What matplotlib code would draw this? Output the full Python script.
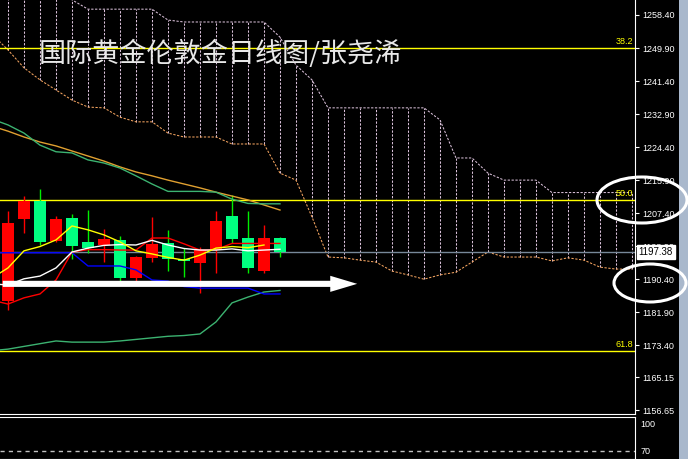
import numpy as np
import matplotlib
matplotlib.use("Agg")
import matplotlib.pyplot as plt
from matplotlib.patches import Ellipse, Rectangle
from matplotlib.transforms import blended_transform_factory

# daily candles (bar index 0..17)
opens = [1204.9, 1210.5, 1200.0, 1205.9, 1199.0, 1198.3, 1200.7, 1190.8, 1196.0,
         1199.5, 1195.5, 1195.2, 1197.9, 1205.4, 1200.7, 1193.3, 1201.0, 1197.3]
highs = [1208.0, 1211.9, 1213.6, 1206.7, 1207.2, 1208.2, 1203.2, 1201.5, 1196.3,
         1206.5, 1203.1, 1198.3, 1198.6, 1208.0, 1212.1, 1208.0, 1204.3, 1201.3]
lows = [1182.5, 1202.4, 1199.2, 1200.0, 1195.5, 1197.2, 1194.9, 1189.8, 1189.8,
        1194.9, 1192.6, 1190.9, 1186.9, 1191.9, 1199.8, 1192.1, 1192.1, 1196.2]
closes = [1184.9, 1205.9, 1210.5, 1200.3, 1206.1, 1200.0, 1199.2, 1200.5, 1190.8,
          1195.9, 1199.7, 1195.5, 1194.5, 1197.9, 1206.7, 1201.0, 1192.6, 1201.0]

# indicator lines, bar index -1..17
line_idx = np.arange(-1, 18)
orange_line = [1229.8, 1228.5, 1227.0, 1225.7, 1224.7, 1223.4, 1222.1, 1220.8, 1219.3, 1218.0,
               1217.0, 1215.9, 1214.9, 1213.9, 1212.8, 1211.8, 1210.8, 1209.5, 1208.2]
green_upper = [1231.6, 1230.1, 1228.0, 1224.9, 1223.2, 1222.9, 1221.1, 1220.3, 1219.0, 1217.0,
               1214.9, 1213.0, 1213.0, 1213.0, 1212.8, 1211.0, 1209.9, 1209.8, 1209.8]
green_lower = [1172.0, 1172.4, 1173.1, 1173.8, 1174.5, 1174.2, 1174.2, 1174.2, 1174.5, 1174.9,
               1175.3, 1175.7, 1175.9, 1176.3, 1179.4, 1184.3, 1185.8, 1187.1, 1187.5]
blue_line = [1197.2, 1197.2, 1197.2, 1197.2, 1197.2, 1197.2, 1193.8, 1193.8, 1193.8, 1192.8,
             1190.2, 1189.9, 1188.5, 1188.1, 1188.1, 1188.1, 1188.1, 1186.6, 1186.6]
red_line = [1185.0, 1184.0, 1185.6, 1186.6, 1190.2, 1197.4, 1198.0, 1198.0, 1197.9, 1197.9,
            1201.0, 1201.0, 1199.5, 1197.9, 1198.0, 1199.6, 1199.6, 1199.6, 1199.6]
white_line = [1189.2, 1188.9, 1190.5, 1191.2, 1193.3, 1197.4, 1198.4, 1199.1, 1199.3, 1199.2,
              1200.4, 1199.2, 1198.3, 1197.9, 1197.9, 1198.2, 1197.7, 1197.9, 1198.1]
yellow_line = [1190.7, 1193.3, 1197.7, 1198.8, 1200.5, 1204.1, 1203.1, 1201.8, 1200.0, 1197.7,
               1196.9, 1196.0, 1195.3, 1196.6, 1198.4, 1198.8, 1198.5, 1199.2]

# ichimoku cloud, bar index -1..39
cloud_idx = np.arange(-1, 40)
span_b = [1282.0, 1277.7, 1273.8, 1270.0, 1265.4, 1262.3, 1259.9, 1259.9, 1259.9, 1259.9,
          1259.9, 1257.1, 1256.6, 1256.6, 1256.6, 1256.6, 1256.6, 1256.6, 1252.7, 1245.5,
          1241.7, 1234.5, 1234.5, 1234.5, 1234.5, 1234.5, 1234.5, 1234.5, 1231.4, 1221.6,
          1221.6, 1217.7, 1215.9, 1215.9, 1215.9, 1212.7, 1212.7, 1212.7, 1212.7, 1212.7,
          1212.7]
span_a = [1253.5, 1249.4, 1244.8, 1241.7, 1239.1, 1236.5, 1234.7, 1234.5, 1232.1, 1230.9,
          1230.9, 1228.0, 1227.0, 1227.0, 1227.0, 1225.2, 1225.2, 1225.2, 1217.7, 1215.9,
          1206.4, 1196.1, 1195.9, 1195.3, 1194.8, 1192.5, 1191.5, 1190.4, 1191.5, 1192.2,
          1194.8, 1197.4, 1196.1, 1196.1, 1196.1, 1195.1, 1195.9, 1195.3, 1193.5, 1193.0,
          1193.0]

fib_levels = [1249.8, 1210.8, 1171.9]
fib_labels = ["38.2", "50.0", "61.8"]
last_price = 1197.38
price_ticks = [1258.40, 1249.90, 1241.40, 1232.90, 1224.40, 1215.90, 1207.40,
               1198.90, 1190.40, 1181.90, 1173.40, 1165.15, 1156.65]
osc_ticks = [100, 70]
title = "国际黄金伦敦金日线图/张尧浠"

W, H = 688, 459
fig = plt.figure(figsize=(W / 100, H / 100), dpi=100, facecolor="black")
ax = fig.add_axes([0, 45 / H, 635 / W, 414 / H], facecolor="black")
ax2 = fig.add_axes([0, 0, 635 / W, 42.5 / H], facecolor="black")

ax.set_xlim(-0.5, 39.19)
ax.set_ylim(1155.7, 1262.26)

# cloud
dash = (0, (2.2, 1.5))
ax.vlines(cloud_idx, span_a, span_b, colors="#d8bfd8", linestyles=dash, lw=0.75, zorder=1)
ax.plot(cloud_idx, span_b, color="#d8bfd8", ls=dash, lw=0.75, zorder=1)
ax.plot(cloud_idx, span_a, color="#f4a460", ls=dash, lw=0.75, zorder=1)

# fibo + price line
for lvl, lab in zip(fib_levels, fib_labels):
    ax.axhline(lvl, color="#ffff00", lw=1, zorder=2)
    ax.text(633 / 635, lvl + 0.6, lab, transform=blended_transform_factory(ax.transAxes, ax.transData),
            color="#ffff00", fontsize=6.5, family="Liberation Sans", ha="right", va="bottom")
ax.axhline(last_price, color="#778899", lw=1, zorder=2)

# candles
for i, (o, h, l, c) in enumerate(zip(opens, highs, lows, closes)):
    body = "#00ff80" if c >= o else "#ff0000"
    wick = "#00ee00" if c >= o else "#ff0000"
    ax.vlines(i, l, h, color=wick, lw=1, zorder=3)
    ax.bar(i, abs(c - o), bottom=min(o, c), width=0.69, color=body, zorder=4)

# indicator lines
ax.plot(line_idx, orange_line, color="#e0a030", lw=1, zorder=5)
ax.plot(line_idx, green_upper, color="#3cb371", lw=1, zorder=5)
ax.plot(line_idx, green_lower, color="#3cb371", lw=1, zorder=5)
ax.plot(line_idx, blue_line, color="#0000ff", lw=1, zorder=5)
ax.plot(line_idx, red_line, color="#ff0000", lw=1, zorder=5)
ax.plot(line_idx, white_line, color="#ffffff", lw=1, zorder=5)
ax.plot(line_idx[:len(yellow_line)], yellow_line, color="#ffff00", lw=1, zorder=5)

# white arrow
ax.annotate("", xy=(22.0, 1189.2), xytext=(-0.5, 1189.2),
            arrowprops=dict(arrowstyle="simple,head_length=0.97,head_width=0.58,tail_width=0.22",
                            mutation_scale=20, fc="white", ec="white", lw=0), zorder=6)

# axes styling
for s in ["top", "left"]:
    ax.spines[s].set_visible(False)
    ax2.spines[s].set_visible(False)
ax2.spines["top"].set_visible(True)
for a in (ax, ax2):
    for s in ["bottom", "right", "top"]:
        a.spines[s].set_color("white")
ax.set_xticks([])
ax.yaxis.tick_right()
ax.set_yticks(price_ticks)
ax.set_yticklabels([f"{p:.2f}" for p in price_ticks], family="Liberation Sans")
ax.tick_params(axis="y", colors="white", labelsize=6.5, length=3, width=0.8, pad=2)

ax.text(1.006, last_price, f"{last_price:.2f}", transform=blended_transform_factory(ax.transAxes, ax.transData),
        color="black", fontsize=7, family="Liberation Sans", ha="left", va="center", zorder=10,
        bbox=dict(facecolor="white", edgecolor="white", pad=1.3), clip_on=False)

ax2.set_xlim(-0.5, 39.19)
ax2.set_ylim(61.4, 107)
ax2.axhline(70, color="#c0c0c0", lw=1, ls=(0, (3, 3)))
ax2.set_xticks([])
ax2.yaxis.tick_right()
ax2.set_yticks(osc_ticks)
ax2.set_yticklabels([str(t) for t in osc_ticks], family="Liberation Sans")
ax2.tick_params(axis="y", colors="white", labelsize=6.5, length=0, pad=4)

# title
fig.text(39 / W, 1 - 54 / H, title, color="#e8e8e8", fontsize=19.5, fontweight="light",
         family=["Noto Sans CJK SC", "DejaVu Sans"], ha="left", va="center")

# circles + scrollbar
fig.add_artist(Ellipse((642 / W, 1 - 200 / H), 90 / W, 46 / H, transform=fig.transFigure,
                       fill=False, ec="white", lw=2.2, zorder=20))
fig.add_artist(Ellipse((650 / W, 1 - 283 / H), 72 / W, 38 / H, transform=fig.transFigure,
                       fill=False, ec="white", lw=2.2, zorder=20))
fig.add_artist(Rectangle((679 / W, 0), 9 / W, 1, transform=fig.transFigure,
                         fc="#a9b8cc", ec="none", zorder=15))

fig.savefig("out.png", dpi=100, facecolor="black")
